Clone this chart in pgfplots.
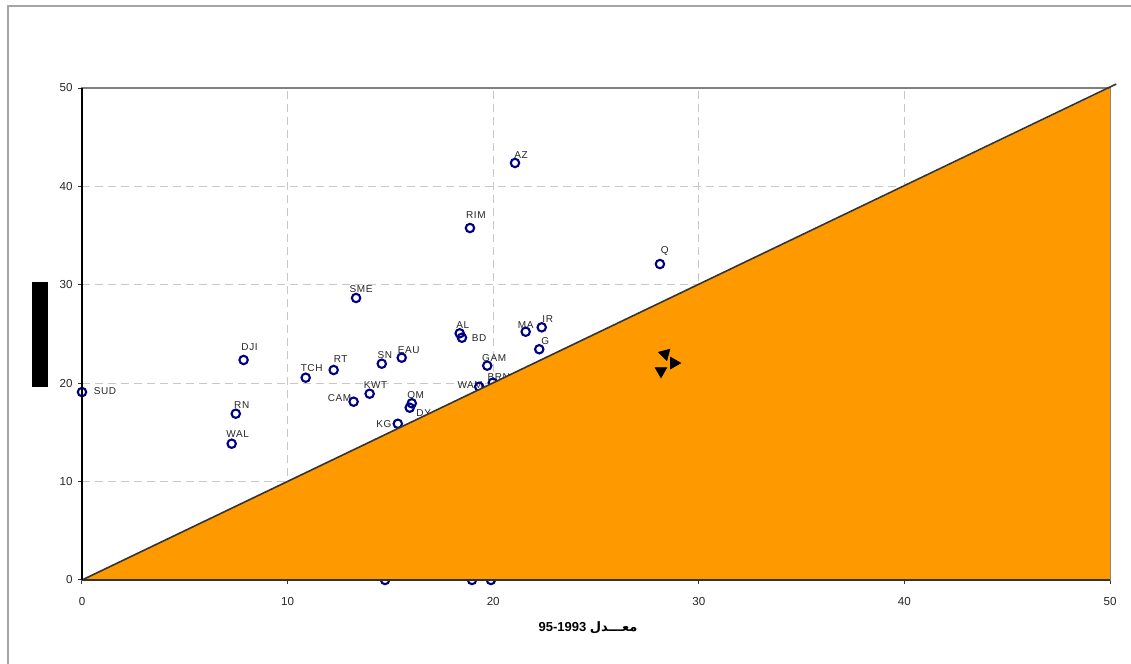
\documentclass[border=0pt]{standalone}
\usepackage{fontspec}
\setmainfont{Liberation Sans}
\newfontfamily\arabicfont[Script=Arabic]{DejaVu Sans}
\newfontfamily\lblfont[LetterSpace=6]{Liberation Sans}
\TeXXeTstate=1
\usepackage{pgfplots}
\usepackage{pgfplotstable}
\pgfplotsset{compat=1.18}

\definecolor{fillorange}{RGB}{255,153,0}
\definecolor{markblue}{RGB}{0,0,128}
\definecolor{gridgray}{RGB}{200,200,200}

% x: 1993-95 average, y: later value
\pgfplotstableread{
x      y
0.00   19.10
7.86   22.36
7.48   16.90
7.28   13.85
10.88  20.56
12.24  21.34
13.33  28.66
13.21  18.12
13.99  18.93
14.58  21.98
15.55  22.59
16.04  17.96
15.94  17.51
15.36  15.88
18.37  25.07
18.48  24.62
21.58  25.23
22.36  25.68
22.24  23.45
19.71  21.78
19.32  19.64
19.98  20.05
21.06  42.38
18.87  35.77
28.11  32.11
14.74  0.00
18.97  0.00
19.89  0.00
}\ratesdata

% label positions (centre of each country code)
\pgfplotstableread{
lx     ly     label
1.12   19.20  SUD
8.15   23.68  DJI
7.77   17.81  RN
7.57   14.87  WAL
11.17  21.58  TCH
12.58  22.46  RT
13.57  29.57  SME
12.53  18.53  CAM
14.28  19.84  KWT
14.73  22.89  SN
15.89  23.40  EAU
16.23  18.77  OM
16.62  17.00  DY
14.68  15.88  KG
18.52  25.88  AL
19.31  24.62  BD
21.58  25.94  MA
22.65  26.49  IR
22.53  24.26  G
20.05  22.59  GAM
18.88  19.84  WAM
20.27  20.66  BRN
21.35  43.19  AZ
19.16  37.09  RIM
28.35  33.43  Q
}\labeldata

\begin{document}
\begin{tikzpicture}
\useasboundingbox (0pt,0pt) rectangle (565.5pt,332pt);
% outer chart frame
\draw[gray!70, line width=0.75pt] (4pt,-5pt) -- (4pt,329pt) -- (580pt,329pt);
% vertical title block
\fill[black] (16pt,138.5pt) rectangle (24pt,191pt);
\begin{axis}[
  at={(41pt,42pt)}, anchor=south west,
  width=514pt, height=246pt, scale only axis,
  xmin=0, xmax=50, ymin=0, ymax=50,
  xtick={0,10,...,50}, ytick={0,10,...,50},
  grid=major,
  grid style={gridgray, dash pattern=on 4pt off 2.5pt, line width=0.5pt},
  axis line style={gray, line width=0.6pt},
  tick align=outside, tick pos=left, major tick length=2pt,
  tick style={black!80, line width=0.5pt},
  tick label style={font=\fontsize{5.8}{7}\selectfont, text=black!85},
  /pgf/number format/assume math mode=true,
  xticklabel style={yshift=-3pt},
  yticklabel style={xshift=0.8pt},
  clip=false,
  clip mode=individual,
  clip marker paths=true,
  after end axis/.code={
    \draw[black!80, line width=0.8pt] (rel axis cs:0,0) -- (rel axis cs:1,0);
    \draw[black, line width=0.9pt] (rel axis cs:0,0) -- (rel axis cs:0,1);
  },
]
% country codes
\addplot[draw=none, mark=none,
  point meta=explicit symbolic,
  nodes near coords,
  every node near coord/.append style={anchor=center, inner sep=0pt,
    font=\lblfont\fontsize{5}{5}\selectfont, text=black!85},
] table[x=lx, y=ly, meta=label] {\labeldata};
% countries
\addplot[only marks, mark=o, mark size=2.1pt,
  mark options={draw=markblue, line width=1.05pt},
] table[x=x, y=y] {\ratesdata};
% region below the diagonal
\addplot[draw=none, fill=fillorange] coordinates {(0,0) (50,50)} \closedcycle;
% diagonal y = x
\addplot[black!80, line width=0.8pt] coordinates {(0,0) (50.3,50.4)};
% three small arrowheads
\addplot[only marks, mark=triangle*, mark size=3.3pt, black, mark options={rotate=-45}] coordinates {(28.36,22.97)};
\addplot[only marks, mark=triangle*, mark size=3.3pt, black, mark options={rotate=-90}] coordinates {(28.79,22.05)};
\addplot[only marks, mark=triangle*, mark size=3.3pt, black, mark options={rotate=180}] coordinates {(28.16,21.24)};
\end{axis}
\node[font=\bfseries\fontsize{6.5}{7}\selectfont] at (294pt,18pt)
  {\beginR{\arabicfont معـــدل} \beginL 95-1993\endL\endR};
\end{tikzpicture}
\end{document}
